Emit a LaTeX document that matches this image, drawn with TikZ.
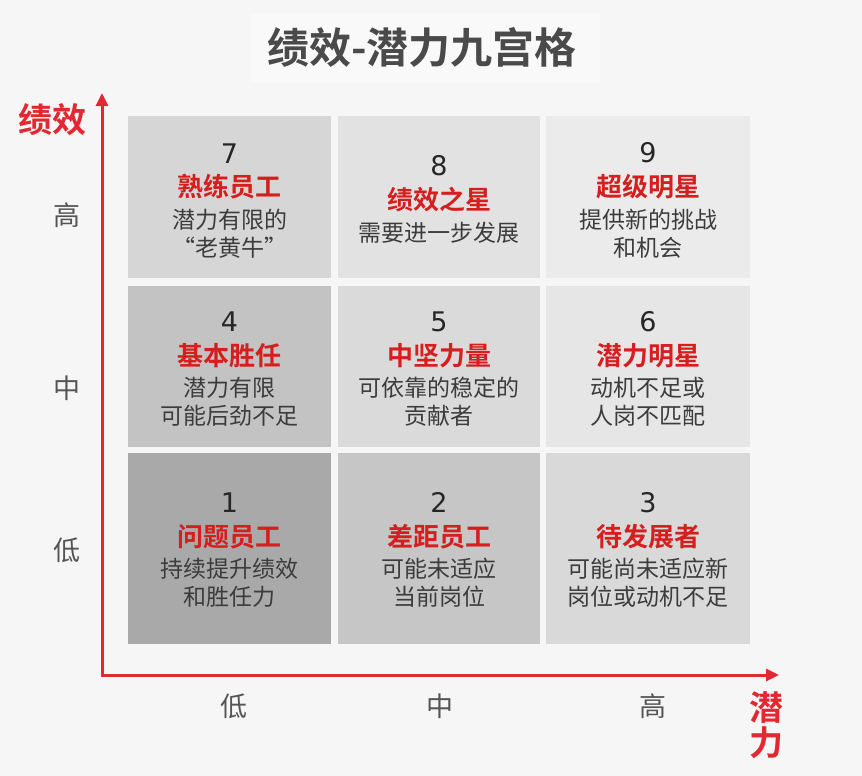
\documentclass[tikz,border=0pt]{standalone}
\usepackage{fontspec}
\setmainfont{Noto Sans CJK SC}[BoldFont={Noto Sans CJK SC Bold}]
\newfontfamily\numfont{DejaVu Sans}
\usetikzlibrary{positioning,calc,arrows.meta}

\definecolor{pagebg}{HTML}{F6F6F6}
\definecolor{axisred}{RGB}{226,40,50}
\definecolor{namered}{RGB}{214,30,30}
\definecolor{titlegray}{HTML}{4A4A4A}
\definecolor{descgray}{HTML}{3C3C3C}
\definecolor{tickgray}{HTML}{555555}
\definecolor{g1}{HTML}{A9A9A9}
\definecolor{g2}{HTML}{C6C6C6}
\definecolor{g3}{HTML}{D9D9D9}
\definecolor{g4}{HTML}{C3C3C3}
\definecolor{g5}{HTML}{DADADA}
\definecolor{g6}{HTML}{E6E6E6}
\definecolor{g7}{HTML}{D6D6D6}
\definecolor{g8}{HTML}{E2E2E2}
\definecolor{g9}{HTML}{EBEBEB}

\tikzset{
  cellbox/.style={rectangle, inner sep=0pt, draw=none},
  numtext/.style={font=\numfont\fontsize{27}{30}\selectfont, text=black!85, inner sep=0pt},
  nametext/.style={font=\bfseries\fontsize{26}{30}\selectfont, text=namered, inner sep=0pt},
  desctext/.style={font=\fontsize{23}{28}\selectfont, text=descgray, align=center, inner sep=0pt},
  ticktext/.style={font=\fontsize{27}{30}\selectfont, text=tickgray, inner sep=0pt},
  axislabel/.style={font=\bfseries\fontsize{34}{35}\selectfont, text=axisred, align=center, inner sep=0pt},
  axis/.style={line width=3pt, draw=axisred,
    {Triangle[length=13pt,width=12pt]}-{Triangle[length=13pt,width=12pt]}}
}

% number, name and description of one cell
\newcommand{\celltext}[5]{%
  \node[nametext] (#1t) at ($(#1)+(0,#5)$) {#3};
  \node[numtext, above=11pt of #1t] (#1n) {#2};
  \node[desctext, below=9pt of #1t] (#1d) {#4};
}

\begin{document}
\begin{tikzpicture}[x=1pt, y=-1pt]
  \fill[pagebg] (0,0) rectangle (862,776);
  \useasboundingbox (0,0) rectangle (862,776);

  % title
  \fill[white!35!pagebg] (250,14) rectangle (600,82);
  \node[font=\bfseries\fontsize{42}{44}\selectfont, text=titlegray] (title) at (422,47) {绩效-潜力九宫格};

  % cells
  \node[cellbox, fill=g7, minimum width=203pt, minimum height=162pt] (c7) at (229.5,197) {};
  \node[cellbox, fill=g8, minimum width=202pt, minimum height=162pt] (c8) at (439,197) {};
  \node[cellbox, fill=g9, minimum width=204pt, minimum height=162pt] (c9) at (648,197) {};
  \node[cellbox, fill=g4, minimum width=203pt, minimum height=161pt] (c4) at (229.5,366.5) {};
  \node[cellbox, fill=g5, minimum width=202pt, minimum height=161pt] (c5) at (439,366.5) {};
  \node[cellbox, fill=g6, minimum width=204pt, minimum height=161pt] (c6) at (648,366.5) {};
  \node[cellbox, fill=g1, minimum width=203pt, minimum height=191pt] (c1) at (229.5,548.5) {};
  \node[cellbox, fill=g2, minimum width=202pt, minimum height=191pt] (c2) at (439,548.5) {};
  \node[cellbox, fill=g3, minimum width=204pt, minimum height=191pt] (c3) at (648,548.5) {};

  \celltext{c7}{7}{熟练员工}{潜力有限的\\“老黄牛”}{-10}
  \celltext{c8}{8}{绩效之星}{需要进一步发展}{3}
  \celltext{c9}{9}{超级明星}{提供新的挑战\\和机会}{-10}
  \celltext{c4}{4}{基本胜任}{潜力有限\\可能后劲不足}{-11}
  \celltext{c5}{5}{中坚力量}{可依靠的稳定的\\贡献者}{-11}
  \celltext{c6}{6}{潜力明星}{动机不足或\\人岗不匹配}{-11}
  \celltext{c1}{1}{问题员工}{持续提升绩效\\和胜任力}{-12}
  \celltext{c2}{2}{差距员工}{可能未适应\\当前岗位}{-12}
  \celltext{c3}{3}{待发展者}{可能尚未适应新\\岗位或动机不足}{-12}

  % axes
  \coordinate (origin) at (102,675);
  \coordinate (ytip) at (102,93);
  \coordinate (xtip) at (779,675);
  \draw[axis] (ytip) -- (origin) -- (xtip);
  \node[axislabel] (ylabel) at (52,120) {绩效};
  \node[axislabel] (xlabel) at (766,725) {潜\\力};

  % levels
  \node[ticktext] (yhigh) at (67,215) {高};
  \node[ticktext] (ymid) at (67,388) {中};
  \node[ticktext] (ylow) at (67,550) {低};
  \node[ticktext] (xlow) at (234,706) {低};
  \node[ticktext] (xmid) at (440,706) {中};
  \node[ticktext] (xhigh) at (653,706) {高};
\end{tikzpicture}
\end{document}
